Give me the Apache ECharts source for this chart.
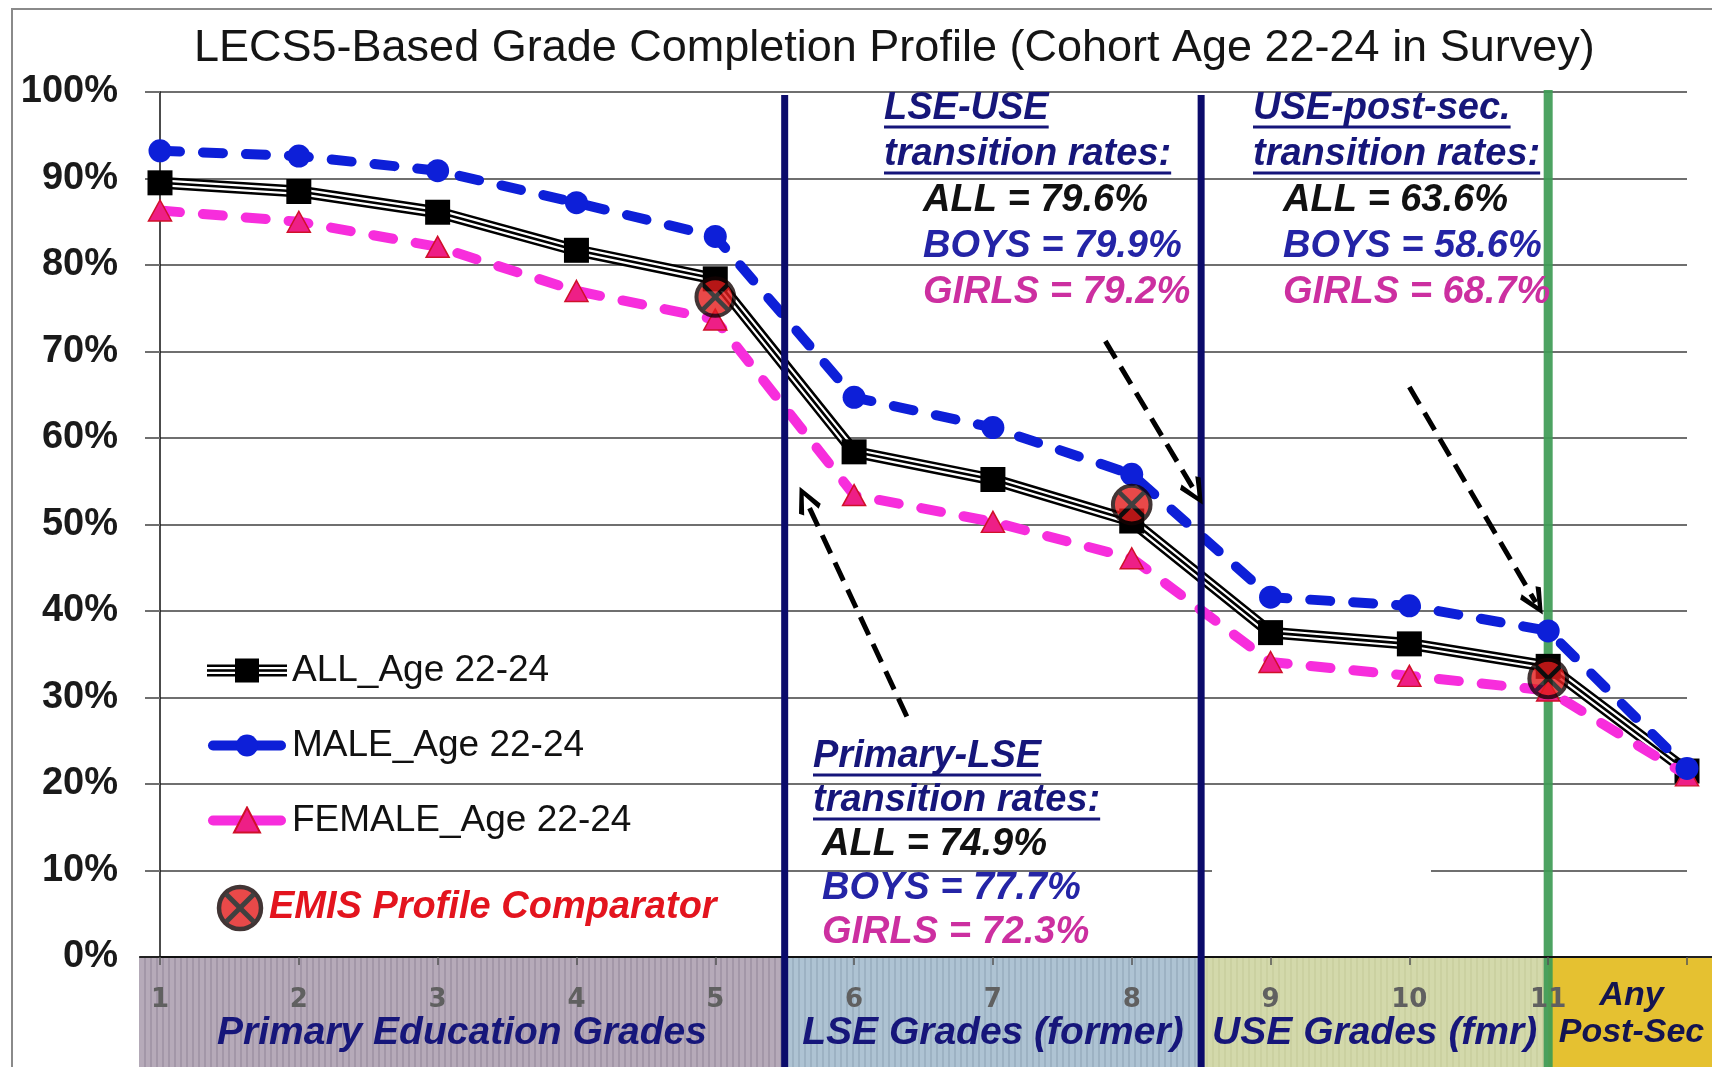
<!DOCTYPE html>
<html>
<head>
<meta charset="utf-8">
<title>LECS5-Based Grade Completion Profile</title>
<script src="https://cdn.jsdelivr.net/npm/echarts@6/dist/echarts.min.js"></script>
<style>
  html, body { margin: 0; padding: 0; background: #fff; }
  #chart { width: 1712px; height: 1067px; }
</style>
</head>
<body>
<div id="chart"></div>
<script>
// grades 1..11, the last point (12) is "Any Post-Sec"
var grades = [1, 2, 3, 4, 5, 6, 7, 8, 9, 10, 11, 12];
var gradeLabels = ["1", "2", "3", "4", "5", "6", "7", "8", "9", "10", "11", ""];

var allAge = [89.5, 88.5, 86.1, 81.7, 78.4, 58.4, 55.2, 50.4, 37.5, 36.2, 33.6, 21.5];
var maleAge = [93.2, 92.6, 90.9, 87.2, 83.3, 64.7, 61.2, 55.8, 41.6, 40.6, 37.7, 21.8];
var femaleAge = [86.3, 85.0, 82.1, 77.0, 73.7, 53.4, 50.3, 46.1, 34.1, 32.5, 30.8, 21.0];

var emisGrades = [5, 8, 11];
var emisValues = [76.3, 52.3, 32.2];

// education levels shown as bands under the axis
var bandNames = ["Primary Education Grades", "LSE Grades (former)", "USE Grades (fmr)", "Any\nPost-Sec"];
var bandFrom = [0.85, 5.5, 8.5, 11];
var bandTo = [5.5, 8.5, 11, 12.2];
var levelBreaks = [5.5, 8.5];
var postSecBreak = [11];

// transition rates (ALL, BOYS, GIRLS)
var rateGroups = ["ALL", "BOYS", "GIRLS"];
var primaryLseRates = [74.9, 77.7, 72.3];
var lseUseRates = [79.6, 79.9, 79.2];
var usePostRates = [63.6, 58.6, 68.7];

var FONT = '"Liberation Sans", Arial, sans-serif';
var NAVY = "#16167a";
var BLUE = "#0d1fd8";
var PINK = "#f72ddc";

function pair(xs, ys) {
  return xs.map(function (x, i) { return [x, ys[i]]; });
}

function svgIcon(svg) {
  return "image://data:image/svg+xml;charset=utf-8," + encodeURIComponent(svg);
}

var emisSvg = '<svg xmlns="http://www.w3.org/2000/svg" width="48" height="48" viewBox="0 0 48 48">' +
  '<circle cx="24" cy="24" r="21" fill="#e41c1c" stroke="#140303" stroke-width="4.5"/>' +
  '<line x1="10" y1="10" x2="38" y2="38" stroke="#111" stroke-width="5"/>' +
  '<line x1="38" y1="10" x2="10" y2="38" stroke="#111" stroke-width="5"/></svg>';
var allSvg = '<svg xmlns="http://www.w3.org/2000/svg" width="80" height="30" viewBox="0 0 80 30">' +
  '<rect x="0" y="9" width="80" height="12" fill="#000"/>' +
  '<rect x="0" y="11.5" width="80" height="7" fill="#fff"/>' +
  '<rect x="0" y="13.7" width="80" height="2.6" fill="#000"/>' +
  '<rect x="28" y="3" width="24" height="24" fill="#000"/></svg>';
var maleSvg = '<svg xmlns="http://www.w3.org/2000/svg" width="80" height="30" viewBox="0 0 80 30">' +
  '<line x1="6" y1="15" x2="74" y2="15" stroke="' + BLUE + '" stroke-width="10" stroke-linecap="round"/>' +
  '<circle cx="40" cy="15" r="11" fill="' + BLUE + '"/></svg>';
var femaleSvg = '<svg xmlns="http://www.w3.org/2000/svg" width="80" height="30" viewBox="0 0 80 30">' +
  '<line x1="6" y1="15" x2="74" y2="15" stroke="' + PINK + '" stroke-width="10" stroke-linecap="round"/>' +
  '<polygon points="40,2 53,27 27,27" fill="#ee1f86" stroke="#d0102a" stroke-width="2"/></svg>';

// vertical hatching of the grade bands
function hatch(base, stripe) {
  var c = document.createElement("canvas");
  c.width = 6; c.height = 6;
  var g = c.getContext("2d");
  g.fillStyle = base; g.fillRect(0, 0, 6, 6);
  if (stripe) { g.fillStyle = stripe; g.fillRect(0, 0, 2, 6); }
  return { image: c, repeat: "repeat" };
}
var bandFills = [
  hatch("#b6aab9", "#a397a8"),
  hatch("#aec3d3", "#9db2c3"),
  hatch("#d3d9ab", "#cbd1a1"),
  hatch("#e5c131", null)
];

// text annotations
var measure = document.createElement("canvas").getContext("2d");
var noteFont = "italic bold 38px " + FONT;
function textWidth(t) { measure.font = noteFont; return measure.measureText(t).width; }

function noteBlock(x, y, step, valX, heads, rates) {
  var els = [];
  heads.forEach(function (h, i) {
    var ty = y + i * step;
    els.push({ type: "text", x: x, y: ty, z: 20,
      style: { text: h, fill: NAVY, font: noteFont, verticalAlign: "middle" } });
    els.push({ type: "line", z: 20, shape: { x1: x, y1: ty + 18, x2: x + textWidth(h), y2: ty + 18 },
      style: { stroke: NAVY, lineWidth: 3 } });
  });
  var cols = ["#111111", "#2424a6", "#cc2fa0"];
  rates.forEach(function (v, i) {
    els.push({ type: "text", x: valX, y: y + (2 + i) * step, z: 20,
      style: { text: rateGroups[i] + " = " + v.toFixed(1) + "%", fill: cols[i], font: noteFont, verticalAlign: "middle" } });
  });
  return els;
}

var graphics = [{
  type: "rect", z: -1, shape: { x: 12, y: 9, width: 1800, height: 1200 },
  style: { fill: "none", stroke: "#8a8a8a", lineWidth: 2 }
}, {
  // white box in the original hides part of the 10% gridline
  type: "rect", z: 1, shape: { x: 1212, y: 864, width: 219, height: 12 },
  style: { fill: "#ffffff" }
}].concat(
  noteBlock(884, 109, 46, 923, ["LSE-USE", "transition rates:"], lseUseRates),
  noteBlock(1253, 109, 46, 1283, ["USE-post-sec.", "transition rates:"], usePostRates),
  noteBlock(813, 757, 44, 822, ["Primary-LSE", "transition rates:"], primaryLseRates)
);

var arrowHead = "path://M12,0 L24,20 L20,23 L12,8 L4,23 L0,20 Z";

var chart = echarts.init(document.getElementById("chart"));
chart.setOption({
  animation: false,
  backgroundColor: "#ffffff",
  title: {
    text: "LECS5-Based Grade Completion Profile (Cohort Age 22-24 in Survey)",
    left: 194, top: 23, padding: 0,
    textStyle: { fontFamily: FONT, fontSize: 45, fontWeight: "normal", color: "#151515", lineHeight: 52 }
  },
  grid: { left: 160, right: 25, top: 92, bottom: 110, containLabel: false, outerBoundsMode: "none" },
  legend: [{
    orient: "vertical", left: 202, top: 647,
    itemWidth: 80, itemHeight: 30, itemGap: 38,
    textStyle: { fontFamily: FONT, fontSize: 37, color: "#111" },
    data: [
      { name: "ALL_Age 22-24", icon: svgIcon(allSvg) },
      { name: "MALE_Age 22-24", icon: svgIcon(maleSvg) },
      { name: "FEMALE_Age 22-24", icon: svgIcon(femaleSvg) }
    ]
  }, {
    orient: "vertical", left: 211, top: 879,
    itemWidth: 48, itemHeight: 48,
    textStyle: { fontFamily: FONT, fontSize: 38, fontStyle: "italic", fontWeight: "bold", color: "#e3141e" },
    data: [{ name: "EMIS Profile Comparator", icon: svgIcon(emisSvg) }]
  }],
  xAxis: {
    type: "value", min: 1, max: 12, interval: 1, z: 5,
    axisLine: { show: true, lineStyle: { color: "#111", width: 2 } },
    axisTick: { show: true, length: 8, lineStyle: { color: "#555", width: 1.5 } },
    splitLine: { show: false },
    axisLabel: {
      margin: 30, showMinLabel: true, showMaxLabel: true,
      fontFamily: "DejaVu Sans", fontWeight: "bold", fontSize: 26, color: "#606060",
      formatter: function (v) { return gradeLabels[grades.indexOf(v)] || ""; }
    }
  },
  yAxis: {
    type: "value", min: 0, max: 100, interval: 10,
    axisLine: { show: true, lineStyle: { color: "#111", width: 1.5 } },
    axisTick: { show: true, length: 15, lineStyle: { color: "#6f6f6f", width: 2 } },
    splitLine: { show: true, lineStyle: { color: "#6f6f6f", width: 2 } },
    axisLabel: { margin: 42, formatter: "{value}%", fontFamily: FONT, fontWeight: "bold", fontSize: 38, color: "#1a1a1a" }
  },
  graphic: graphics,
  series: [
    {
      name: "bands", type: "custom", z: 1, clip: false, silent: true,
      data: bandFrom.map(function (f, i) { return [f, bandTo[i]]; }),
      renderItem: function (params, api) {
        var i = params.dataIndex;
        var p0 = api.coord([api.value(0), 0]);
        var p1 = api.coord([api.value(1), 0]);
        var h = api.getHeight() - p0[1];
        var two = bandNames[i].indexOf("\n") >= 0;
        return {
          type: "group",
          children: [
            { type: "rect", shape: { x: p0[0], y: p0[1], width: p1[0] - p0[0], height: h }, style: { fill: bandFills[i] } },
            { type: "line", shape: { x1: p0[0], y1: p0[1], x2: p1[0], y2: p0[1] }, style: { stroke: "#222", lineWidth: 2 } },
            { type: "text", x: (p0[0] + p1[0]) / 2, y: p0[1] + (two ? 57 : 76),
              style: { text: bandNames[i], fill: two ? "#141450" : NAVY, align: "center", verticalAlign: "middle",
                font: "italic bold " + (two ? 34 : 39) + "px " + FONT, lineHeight: 37 } }
          ]
        };
      }
    },
    {
      name: "post-sec break", type: "custom", z: 2, clip: false, silent: true,
      data: postSecBreak.map(function (x) { return [x, 100]; }),
      renderItem: function (params, api) {
        var p = api.coord([api.value(0), api.value(1)]);
        return { type: "line", shape: { x1: p[0], y1: p[1] - 2, x2: p[0], y2: api.getHeight() },
          style: { stroke: "#3e9b55", lineWidth: 9, opacity: 0.92 } };
      }
    },
    {
      name: "FEMALE_Age 22-24", type: "line", z: 4,
      data: pair(grades, femaleAge),
      symbol: "triangle", symbolSize: [23, 21],
      itemStyle: { color: "#ee1f86", borderColor: "#d0102a", borderWidth: 1.5 },
      lineStyle: { color: PINK, width: 10, type: [20, 23], cap: "round" }
    },
    {
      name: "MALE_Age 22-24", type: "line", z: 4,
      data: pair(grades, maleAge),
      symbol: "circle", symbolSize: 23,
      itemStyle: { color: BLUE, borderColor: BLUE, borderWidth: 0 },
      lineStyle: { color: BLUE, width: 10, type: [20, 23], cap: "round" }
    },
    {
      name: "ALL outer", type: "line", z: 3, symbol: "none",
      data: pair(grades, allAge),
      lineStyle: { color: "#000", width: 12 }
    },
    {
      name: "ALL gap", type: "line", z: 3, symbol: "none",
      data: pair(grades, allAge),
      lineStyle: { color: "#fff", width: 7 }
    },
    {
      name: "ALL_Age 22-24", type: "line", z: 3,
      data: pair(grades, allAge),
      symbol: "rect", symbolSize: 25,
      itemStyle: { color: "#000" },
      lineStyle: { color: "#000", width: 2.6 }
    },
    {
      name: "level breaks", type: "custom", z: 6, clip: false, silent: true,
      data: levelBreaks.map(function (x) { return [x, 100]; }),
      renderItem: function (params, api) {
        var p = api.coord([api.value(0), api.value(1)]);
        return { type: "line", shape: { x1: p[0], y1: p[1] + 3, x2: p[0], y2: api.getHeight() },
          style: { stroke: "#0b0b6b", lineWidth: 7 } };
      }
    },
    {
      name: "EMIS Profile Comparator", type: "scatter", z: 8,
      data: pair(emisGrades, emisValues),
      symbol: svgIcon(emisSvg), symbolSize: 43,
      markLine: {
        silent: true, z: 9,
        symbol: ["none", arrowHead], symbolSize: [24, 28],
        label: { show: false },
        lineStyle: { color: "#000", width: 5, type: [20, 10] },
        data: [
          [{ coord: [6.38, 27.8] }, { coord: [5.65, 52.9] }],
          [{ coord: [7.81, 71.2] }, { coord: [8.46, 53.7] }],
          [{ coord: [10.0, 65.9] }, { coord: [10.91, 41.0] }]
        ]
      }
    }
  ]
});
</script>
</body>
</html>
